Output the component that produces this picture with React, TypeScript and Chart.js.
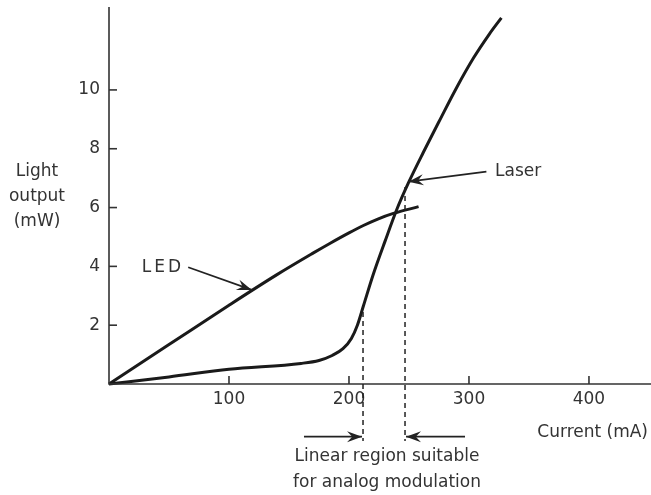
import React, { useEffect, useRef } from "react";
import { Chart, registerables } from "chart.js";

Chart.register(...registerables);

// ---- data ----
const currentTicks = [100, 200, 300, 400];
const powerTicks = [2, 4, 6, 8, 10];
const xMax = 451.7;
const yMax = 12.82;

const laserCurrent = [0, 50, 100, 160, 175, 186, 195, 202, 207, 212, 220, 230, 240, 250, 262, 276, 290, 304, 317, 327];
const laserPower = [0, 0.24, 0.5, 0.7, 0.8, 0.97, 1.2, 1.55, 2.0, 2.65, 3.7, 4.85, 5.95, 6.88, 7.88, 9.0, 10.1, 11.1, 11.9, 12.45];

const ledCurrent = [0, 50, 100, 140, 170, 184, 200, 212, 224, 237, 258];
const ledPower = [0, 1.34, 2.68, 3.72, 4.45, 4.78, 5.14, 5.39, 5.61, 5.8, 6.03];

// dashed markers of linear region (current, top power)
const regionCurrent = [211.7, 246.7];
const regionTop = [2.45, 6.7];
const regionBottom = -1.94;
const regionArrowY = -1.79;
const regionArrowFrom = [162.5, 296.7];

// annotations
const ledLabel = { text: "LED", x: 27.3, y: 3.97 };
const ledArrow = { from: [66, 3.97], to: [119, 3.2] };
const laserLabel = { text: "Laser", x: 321.7, y: 7.24 };
const laserArrow = { from: [314.5, 7.22], to: [249.6, 6.88] };
const yLabelLines = ["Light", "output", "(mW)"];
const xLabel = "Current (mA)";
const regionText = ["Linear region suitable", "for analog modulation"];

const FONT = '17px "DejaVu Sans", sans-serif';
const INK = "#2a2a2a";

function arrowHead(ctx: CanvasRenderingContext2D, fx: number, fy: number, tx: number, ty: number) {
  const ang = Math.atan2(ty - fy, tx - fx);
  const len = 15;
  const hw = 5.5;
  ctx.beginPath();
  ctx.moveTo(tx, ty);
  ctx.lineTo(tx - len * Math.cos(ang) + hw * Math.sin(ang), ty - len * Math.sin(ang) - hw * Math.cos(ang));
  ctx.lineTo(tx - len * 0.65 * Math.cos(ang), ty - len * 0.65 * Math.sin(ang));
  ctx.lineTo(tx - len * Math.cos(ang) - hw * Math.sin(ang), ty - len * Math.sin(ang) + hw * Math.cos(ang));
  ctx.closePath();
  ctx.fill();
}

function arrow(ctx: CanvasRenderingContext2D, fx: number, fy: number, tx: number, ty: number) {
  ctx.beginPath();
  ctx.moveTo(fx, fy);
  ctx.lineTo(tx, ty);
  ctx.stroke();
  arrowHead(ctx, fx, fy, tx, ty);
}

const decorPlugin = {
  id: "decor",
  afterDraw(chart: any) {
    const ctx: CanvasRenderingContext2D = chart.ctx;
    const xs = chart.scales.x;
    const ys = chart.scales.y;
    const X = (v: number) => xs.getPixelForValue(v);
    const Y = (v: number) => ys.getPixelForValue(v);
    ctx.save();
    ctx.strokeStyle = "#333";
    ctx.fillStyle = INK;
    ctx.lineWidth = 1.6;
    ctx.lineCap = "butt";
    // axes
    ctx.beginPath();
    ctx.moveTo(X(0), Y(yMax));
    ctx.lineTo(X(0), Y(0));
    ctx.lineTo(X(xMax), Y(0));
    ctx.stroke();
    // ticks (inward)
    ctx.font = FONT;
    ctx.fillStyle = "#333";
    currentTicks.forEach((t) => {
      ctx.beginPath();
      ctx.moveTo(X(t), Y(0));
      ctx.lineTo(X(t), Y(0) - 8);
      ctx.stroke();
      ctx.textAlign = "center";
      ctx.textBaseline = "middle";
      ctx.fillText(String(t), X(t), Y(0) + 16);
    });
    powerTicks.forEach((t) => {
      ctx.beginPath();
      ctx.moveTo(X(0), Y(t));
      ctx.lineTo(X(0) + 8, Y(t));
      ctx.stroke();
      ctx.textAlign = "right";
      ctx.textBaseline = "middle";
      ctx.fillText(String(t), X(0) - 9, Y(t));
    });
    // axis titles
    ctx.textAlign = "center";
    yLabelLines.forEach((s, i) => ctx.fillText(s, 37, 172 + i * 25));
    ctx.textAlign = "right";
    ctx.fillText(xLabel, 648, Y(0) + 49);

    // dashed region lines
    ctx.strokeStyle = "#222";
    ctx.lineWidth = 1.5;
    ctx.setLineDash([5, 4]);
    regionCurrent.forEach((c, i) => {
      ctx.beginPath();
      ctx.moveTo(X(c), Y(regionTop[i]));
      ctx.lineTo(X(c), Y(regionBottom));
      ctx.stroke();
    });
    ctx.setLineDash([]);
    ctx.fillStyle = "#222";
    ctx.lineWidth = 1.7;
    regionCurrent.forEach((c, i) => {
      arrow(ctx, X(regionArrowFrom[i]), Y(regionArrowY), X(c) + (i === 0 ? -1 : 1), Y(regionArrowY));
    });
    ctx.fillStyle = "#333";
    ctx.textAlign = "center";
    ctx.textBaseline = "middle";
    regionText.forEach((s, i) => ctx.fillText(s, 387, 457 + i * 26));

    // LED annotation
    ctx.textAlign = "left";
    (ctx as any).letterSpacing = "3px";
    ctx.fillText(ledLabel.text, X(ledLabel.x), Y(ledLabel.y));
    (ctx as any).letterSpacing = "0px";
    ctx.fillStyle = "#222";
    arrow(ctx, X(ledArrow.from[0]), Y(ledArrow.from[1]), X(ledArrow.to[0]), Y(ledArrow.to[1]));
    // Laser annotation
    ctx.fillStyle = "#333";
    ctx.fillText(laserLabel.text, X(laserLabel.x), Y(laserLabel.y));
    ctx.fillStyle = "#222";
    arrow(ctx, X(laserArrow.from[0]), Y(laserArrow.from[1]), X(laserArrow.to[0]), Y(laserArrow.to[1]));
    ctx.restore();
  },
};

export default function App() {
  const ref = useRef<HTMLCanvasElement | null>(null);
  useEffect(() => {
    if (!ref.current) return;
    const chart = new Chart(ref.current, {
      type: "line",
      data: {
        datasets: [
          {
            label: "Laser",
            data: laserCurrent.map((x, i) => ({ x, y: laserPower[i] })),
            borderColor: "#1a1a1a",
            borderWidth: 3,
            pointRadius: 0,
            cubicInterpolationMode: "monotone",
            fill: false,
            clip: false as any,
          },
          {
            label: "LED",
            data: ledCurrent.map((x, i) => ({ x, y: ledPower[i] })),
            borderColor: "#1a1a1a",
            borderWidth: 3,
            pointRadius: 0,
            cubicInterpolationMode: "monotone",
            fill: false,
            clip: false as any,
          },
        ],
      },
      options: {
        responsive: false,
        animation: false,
        layout: { padding: { left: 109, right: 0, top: 7, bottom: 111 } },
        plugins: { legend: { display: false }, tooltip: { enabled: false }, title: { display: false } },
        scales: {
          x: { type: "linear", min: 0, max: xMax, display: false },
          y: { type: "linear", min: 0, max: yMax, display: false },
        },
      },
      plugins: [decorPlugin],
    });
    return () => chart.destroy();
  }, []);
  return (
    <div style={{ position: "fixed", left: 0, top: 0, width: 651, height: 495, background: "#fff" }}>
      <canvas ref={ref} width={651} height={495} style={{ display: "block" }} />
    </div>
  );
}
